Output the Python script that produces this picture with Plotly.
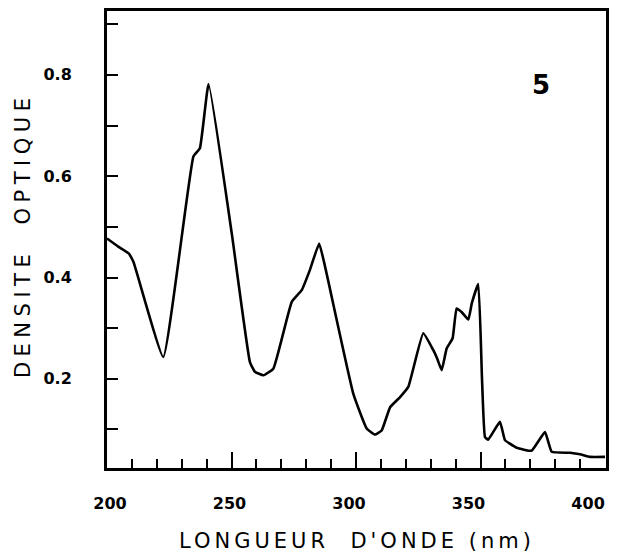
import plotly.graph_objects as go

wavelength_nm = [200, 204.5, 208.6, 210.6, 222.6, 234.7, 237.3, 240.8, 250.1, 257.4,
                 259.4, 262.8, 266.8, 274.2, 278.2, 281.5, 285.2, 287.6, 298.9, 304.3,
                 307.6, 310.3, 313.7, 317.7, 321.0, 327.0, 331.0, 332.6, 334.4, 336.4,
                 338.8, 340.4, 342.4, 345.1, 346.5, 349.1, 350.6, 351.8, 353.1, 357.8,
                 359.8, 361.8, 364.5, 370.5, 375.9, 378.6, 386.0, 390.0, 394.0, 400.0]
optical_density = [0.477, 0.461, 0.448, 0.431, 0.243, 0.639, 0.655, 0.782, 0.487, 0.233,
                   0.214, 0.207, 0.220, 0.352, 0.375, 0.415, 0.467, 0.421, 0.171, 0.102,
                   0.090, 0.098, 0.144, 0.164, 0.184, 0.290, 0.257, 0.240, 0.217, 0.260,
                   0.280, 0.339, 0.332, 0.317, 0.349, 0.387, 0.200, 0.085, 0.080, 0.115,
                   0.079, 0.072, 0.064, 0.058, 0.095, 0.056, 0.054, 0.051, 0.046, 0.046]

x_tick_vals = [200, 250, 300, 350, 400]
x_tick_text = ["200", "250", "300", "350", "400"]
y_tick_vals = [0.2, 0.4, 0.6, 0.8]
y_tick_text = ["0.2", "0.4", "0.6", "0.8"]

tick_font = dict(family="DejaVu Sans", size=16, color="black", weight="bold")

fig = go.Figure()
fig.add_trace(go.Scatter(
    x=wavelength_nm, y=optical_density, mode="lines",
    line=dict(color="black", width=2.6, shape="spline", smoothing=0.35),
    hoverinfo="skip", showlegend=False))
# empty carrier trace so the label axis (x2) is drawn
fig.add_trace(go.Scatter(
    x=x_tick_vals, y=[None] * len(x_tick_vals), xaxis="x2", yaxis="y",
    mode="lines", hoverinfo="skip", showlegend=False))

fig.update_layout(
    width=618, height=552,
    margin=dict(l=107, r=12, t=11, b=84),
    paper_bgcolor="white", plot_bgcolor="white",
    showlegend=False,
    xaxis=dict(range=[200, 400.4], tickvals=x_tick_vals, showticklabels=False,
               ticks="inside", ticklen=16, tickwidth=2, tickcolor="black",
               minor=dict(ticks="inside", ticklen=9, tickwidth=2, dtick=10, tick0=200,
                          tickcolor="black"),
               showline=True, linewidth=3, linecolor="black", mirror=True,
               showgrid=False, zeroline=False, automargin=False),
    # tick labels of the original print sit on a slightly compressed scale
    xaxis2=dict(overlaying="x", anchor="y", side="bottom", range=[198.74, 407.5],
                tickvals=x_tick_vals, ticktext=x_tick_text, ticks="",
                showline=False, showgrid=False, zeroline=False, automargin=False,
                ticklabelstandoff=24, ticklabeloverflow="allow", tickfont=tick_font),
    yaxis=dict(range=[0.024, 0.926], tickvals=y_tick_vals, ticktext=y_tick_text,
               ticks="inside", ticklen=11, tickwidth=2, tickcolor="black",
               minor=dict(ticks="inside", ticklen=11, tickwidth=2, dtick=0.1, tick0=0,
                          tickcolor="black"),
               showline=True, linewidth=3, linecolor="black", mirror=True,
               showgrid=False, zeroline=False, ticklabelstandoff=29, automargin=False,
               tickfont=tick_font),
    annotations=[
        dict(text="LONGUEUR  D'ONDE (nm)", x=0.5, y=-0.16, xref="paper", yref="paper",
             xanchor="center", yanchor="middle", showarrow=False,
             font=dict(family="DejaVu Sans", size=21, color="black")),
        dict(text="DENSITE  OPTIQUE", x=-0.168, y=0.51, xref="paper", yref="paper",
             xanchor="center", yanchor="middle", showarrow=False, textangle=-90,
             font=dict(family="DejaVu Sans", size=21, color="black")),
        dict(text="5", x=0.870, y=0.838, xref="paper", yref="paper",
             xanchor="center", yanchor="middle", showarrow=False,
             font=dict(family="DejaVu Sans", size=26, color="black", weight="bold")),
    ],
)

post = """
document.documentElement.style.margin = '0';
document.documentElement.style.overflow = 'hidden';
document.body.style.margin = '0';
document.body.style.overflow = 'hidden';
var s = [['0','4px'],['1','5.5px']];
s.forEach(function(p){
  document.querySelectorAll('g.annotation[data-index="'+p[0]+'"] text').forEach(function(t){
    t.style.letterSpacing = p[1];
  });
});
"""
fig.write_html("out.html", post_script=post, config={"displayModeBar": False})
